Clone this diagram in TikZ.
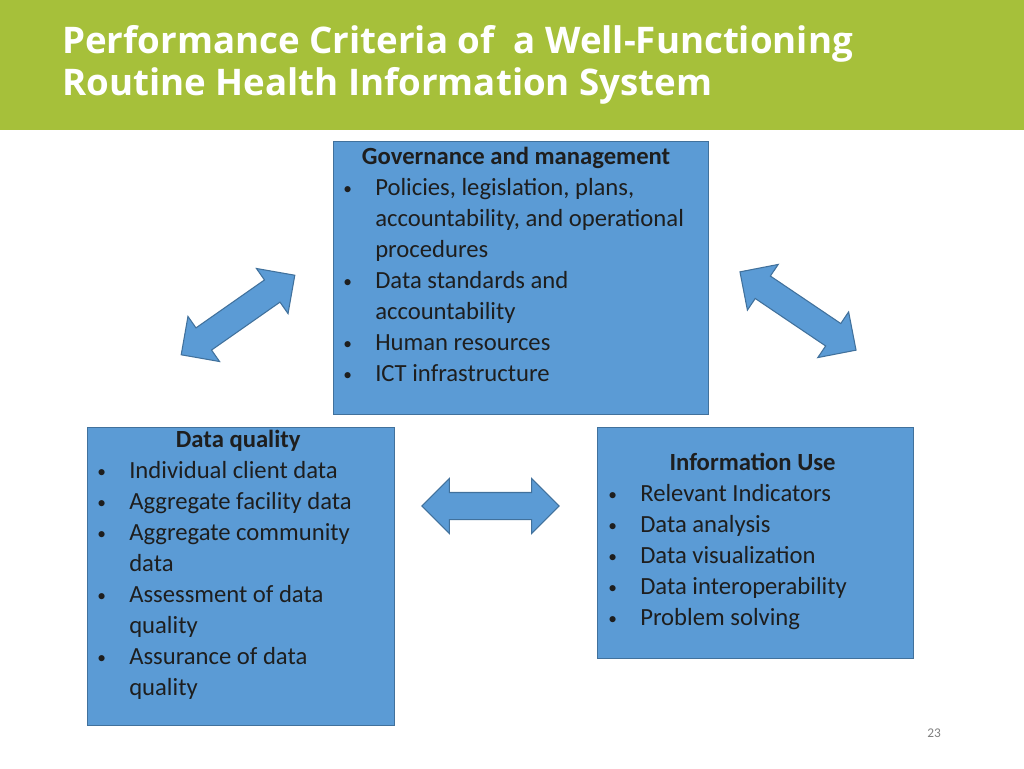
\documentclass[tikz,border=0pt]{standalone}
\usepackage{fontspec}
\setmainfont{Carlito}
\newfontfamily\titlefont{Open Sans}
\usetikzlibrary{shapes.arrows}
\definecolor{bar}{RGB}{166,192,58}
\definecolor{boxfill}{RGB}{91,155,213}
\definecolor{boxline}{RGB}{65,113,156}
\definecolor{txt}{RGB}{30,30,30}
\newcommand{\bl}[1]{\makebox[24pt][l]{\raisebox{0.5pt}{\fontsize{13}{13}\selectfont •}}#1}
\newcommand{\cn}[1]{\hspace*{24pt}#1}
\tikzset{
  panel/.style={draw=boxline, line width=0.8pt, fill=boxfill},
  ptext/.style={text=txt, align=left, font=\fontsize{18.5}{23.2}\selectfont, anchor=north west, inner sep=0pt},
  darr/.style={double arrow, draw=boxline, line width=0.8pt, fill=boxfill, inner xsep=0pt, inner ysep=9.75pt, double arrow head extend=10.5pt}
}
\begin{document}
\begin{tikzpicture}[x=0.75pt,y=-0.75pt]
\useasboundingbox (0,0) rectangle (1024,768);
\fill[white] (0,0) rectangle (1024,768);
\fill[bar] (0,0) rectangle (1024,130) coordinate (barcorner);
\node[anchor=north west, inner sep=0pt, text=white, align=left, font=\titlefont\bfseries\fontsize{27.5}{31.5}\selectfont] (title) at (62,25) {Performance Criteria of\ \ a Well-Functioning\\Routine Health Information System};

\node[panel, minimum width=281.25pt, minimum height=204.75pt, anchor=north west, inner sep=0pt] (gov) at (333,141) {};
\node[ptext] (govt) at (343,147) {\hspace*{14pt}\textbf{Governance and management}\\
\bl{Policies, legislation, plans,}\\ \cn{accountability, and operational}\\ \cn{procedures}\\
\bl{Data standards and}\\ \cn{accountability}\\ \bl{Human resources}\\ \bl{ICT infrastructure}};

\node[panel, minimum width=230.25pt, minimum height=223.5pt, anchor=north west, inner sep=0pt] (dq) at (87,427) {};
\node[ptext] (dqt) at (97,430) {\hspace*{59pt}\textbf{Data quality}\\
\bl{Individual client data}\\ \bl{Aggregate facility data}\\ \bl{Aggregate community}\\ \cn{data}\\
\bl{Assessment of data}\\ \cn{quality}\\ \bl{Assurance of data}\\ \cn{quality}};

\node[panel, minimum width=237pt, minimum height=173.25pt, anchor=north west, inner sep=0pt] (iu) at (597,427) {};
\node[ptext] (iut) at (608,453) {\hspace*{46pt}\textbf{Information Use}\\
\bl{Relevant Indicators}\\ \bl{Data analysis}\\ \bl{Data visualization}\\ \bl{Data interoperability}\\ \bl{Problem solving}};

\node[darr, minimum height=103pt] (h) at (490.5,506) {};
\node[darr, minimum height=104pt, rotate=35] (l) at (238,315) {};
\node[darr, minimum height=105pt, rotate=-34] (r) at (798,311) {};

\node[text=gray, font=\fontsize{10}{12}\selectfont] (pg) at (934,733) {23};
\end{tikzpicture}
\end{document}
